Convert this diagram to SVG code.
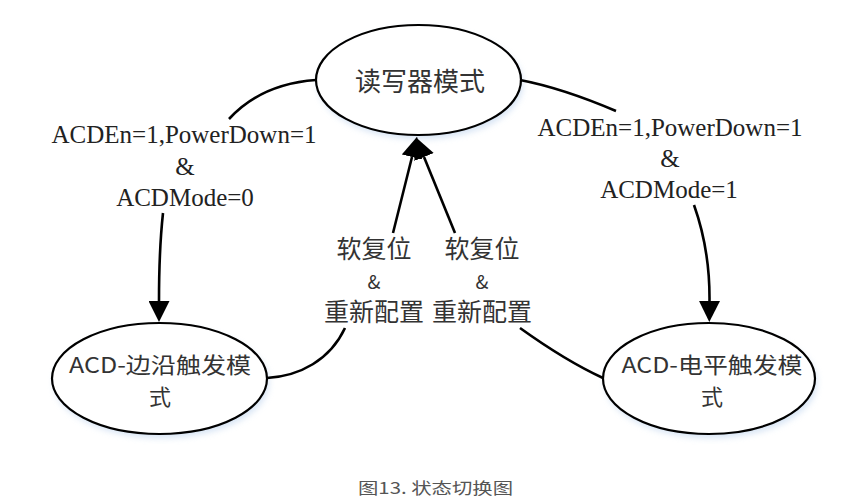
<svg xmlns="http://www.w3.org/2000/svg" width="864" height="502" viewBox="0 0 864 502">
<style>
.node{fill:#fff;stroke:#000;stroke-width:2.2}
.shadow{fill:#c6d9f0;opacity:0.7}
.cjk{font-family:"Noto Sans CJK SC","Noto Sans CJK JP",sans-serif;fill:#333;text-anchor:middle}
.lat{font-family:"Liberation Serif","Times New Roman",serif;fill:#222;text-anchor:middle;font-size:25px}
.edge{fill:none;stroke:#000;stroke-width:2.6}
.cap{font-family:"Noto Sans CJK SC",sans-serif;fill:#555;font-size:16px;text-anchor:middle}
</style>
<defs>
<filter id="blur" x="-20%" y="-20%" width="140%" height="140%"><feGaussianBlur stdDeviation="3"/></filter>
<marker id="arr" markerUnits="userSpaceOnUse" viewBox="0 0 21 21" refX="0" refY="10.5" markerWidth="21" markerHeight="21" orient="auto">
<path d="M0,0 L21,10.5 L0,21 z" fill="#000"/>
</marker>
</defs>
<rect width="864" height="502" fill="#fff"/>

<g id="node-reader">
<ellipse class="shadow" cx="420.5" cy="84" rx="102.5" ry="55" filter="url(#blur)"/>
<ellipse class="node" cx="418.5" cy="80" rx="102.5" ry="55"/>
<text class="cjk" x="420" y="91" font-size="26">读写器模式</text>
</g>

<g id="node-edge">
<ellipse class="shadow" cx="161.5" cy="382.5" rx="107.5" ry="55.5" filter="url(#blur)"/>
<ellipse class="node" cx="159.5" cy="378.5" rx="107.5" ry="55.5"/>
<text class="cjk" font-size="22"><tspan x="160" y="373" textLength="182" lengthAdjust="spacingAndGlyphs">ACD-边沿触发模</tspan><tspan x="160" y="405">式</tspan></text>
</g>

<g id="node-level">
<ellipse class="shadow" cx="711" cy="382.5" rx="106" ry="55.5" filter="url(#blur)"/>
<ellipse class="node" cx="709" cy="378.5" rx="106" ry="55.5"/>
<text class="cjk" font-size="22"><tspan x="712" y="373" textLength="181" lengthAdjust="spacingAndGlyphs">ACD-电平触发模</tspan><tspan x="712" y="405">式</tspan></text>
</g>

<g id="connectors">
<path class="edge" d="M316,80 Q261,84 229,119"/>
<path class="edge" d="M163,213 Q159,250 159,301" marker-end="url(#arr)"/>
<path class="edge" d="M520,80 Q562,88 616,111"/>
<path class="edge" d="M694,205 Q710,250 709.5,301" marker-end="url(#arr)"/>
<path class="edge" d="M393,233 L412,157" marker-end="url(#arr)"/>
<path class="edge" d="M455,233 L424,157" marker-end="url(#arr)"/>
<path class="edge" d="M345,328 C330,360 300,376 267,378"/>
<path class="edge" d="M520,328 Q566,361 603,378"/>
</g>

<g id="labels">
<text class="lat" x="184" y="143">ACDEn=1,PowerDown=1</text>
<text class="lat" x="185" y="175" font-size="22">&amp;</text>
<text class="lat" x="185" y="206">ACDMode=0</text>
<text class="lat" x="670" y="136">ACDEn=1,PowerDown=1</text>
<text class="lat" x="670" y="167" font-size="22">&amp;</text>
<text class="lat" x="669" y="198">ACDMode=1</text>
<text class="cjk" x="374" y="258" font-size="25">软复位</text>
<text class="cjk" x="374" y="289" font-size="19">&amp;</text>
<text class="cjk" x="374" y="321" font-size="25">重新配置</text>
<text class="cjk" x="482" y="258" font-size="25">软复位</text>
<text class="cjk" x="482" y="289" font-size="19">&amp;</text>
<text class="cjk" x="482" y="321" font-size="25">重新配置</text>
<text class="cap" x="435.5" y="494" textLength="155" lengthAdjust="spacingAndGlyphs">图13. 状态切换图</text>
</g>
</svg>
